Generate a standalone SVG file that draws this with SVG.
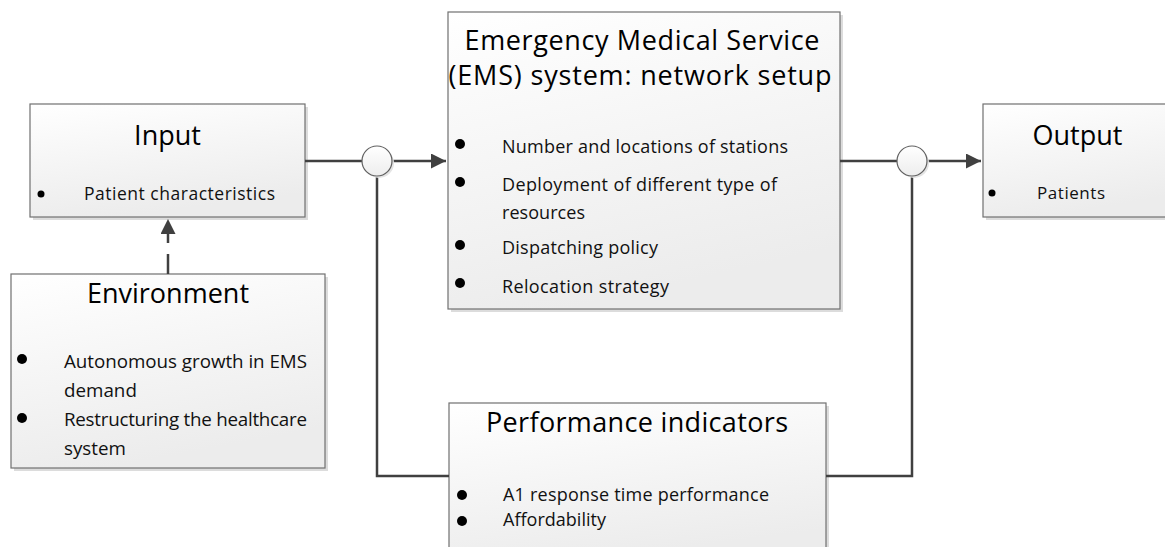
<svg xmlns="http://www.w3.org/2000/svg" width="1165" height="547" viewBox="0 0 1165 547">
  <style>
    .box { fill: url(#boxFill); stroke: #707070; stroke-width: 1.2; }
    .shadow { fill: #dcdcdc; }
    .title { font-family: "Open Sans", Lato, "Liberation Sans", sans-serif; font-size: 27px; fill: #000; text-anchor: middle; }
    .item { font-family: "Open Sans", Lato, "Liberation Sans", sans-serif; fill: #111; }
    .bullet { fill: #000; }
    .wire { fill: none; stroke: #404040; stroke-width: 2.5; }
    .junction { fill: url(#dotFill); stroke: #606060; stroke-width: 1.2; }
  </style>
  <defs>
    <linearGradient id="boxFill" x1="0" y1="0" x2="0.3" y2="1">
      <stop offset="0" stop-color="#ffffff"/>
      <stop offset="1" stop-color="#ececec"/>
    </linearGradient>
    <linearGradient id="dotFill" x1="0" y1="0" x2="0" y2="1">
      <stop offset="0" stop-color="#ffffff"/>
      <stop offset="1" stop-color="#ededed"/>
    </linearGradient>
    <marker id="arrow" viewBox="0 0 10 10" refX="10" refY="5" markerWidth="6" markerHeight="6" markerUnits="strokeWidth" orient="auto">
      <path d="M0,0 L10,5 L0,10 Z" fill="#404040"/>
    </marker>
  </defs>

  <rect width="1165" height="547" fill="#ffffff"/>

  <!-- Input -->
  <g id="input">
    <rect class="shadow" x="33" y="107" width="275" height="113"/>
    <rect class="box" x="30" y="104" width="275" height="113"/>
    <text class="title" x="167.5" y="145">Input</text>
    <circle class="bullet" cx="41" cy="194" r="3.5"/>
    <text class="item" x="84" y="200" font-size="17.5" textLength="191">Patient characteristics</text>
  </g>

  <!-- Environment -->
  <g id="environment">
    <rect class="shadow" x="14" y="277" width="314" height="194"/>
    <rect class="box" x="11" y="274" width="314" height="194"/>
    <text class="title" x="168" y="303">Environment</text>
    <circle class="bullet" cx="22" cy="359" r="5"/>
    <text class="item" x="64" y="368" font-size="18.8" textLength="243">Autonomous growth in EMS</text>
    <text class="item" x="64" y="397" font-size="18.8">demand</text>
    <circle class="bullet" cx="22" cy="418" r="5"/>
    <text class="item" x="64" y="426" font-size="18.8" textLength="243">Restructuring the healthcare</text>
    <text class="item" x="64" y="455" font-size="18.8">system</text>
  </g>

  <!-- EMS system -->
  <g id="ems">
    <rect class="shadow" x="451" y="15" width="392" height="297"/>
    <rect class="box" x="448" y="12" width="392" height="297"/>
    <text class="title" x="642" y="50" textLength="355">Emergency Medical Service</text>
    <text class="title" x="640" y="85" textLength="383">(EMS) system: network setup</text>
    <circle class="bullet" cx="460" cy="144" r="5"/>
    <text class="item" x="502" y="153" font-size="18" textLength="286">Number and locations of stations</text>
    <circle class="bullet" cx="460" cy="182" r="5"/>
    <text class="item" x="502" y="191" font-size="18" textLength="275">Deployment of different type of</text>
    <text class="item" x="502" y="219" font-size="18" textLength="83">resources</text>
    <circle class="bullet" cx="460" cy="245" r="5"/>
    <text class="item" x="502" y="254" font-size="18" textLength="156">Dispatching policy</text>
    <circle class="bullet" cx="460" cy="283" r="5"/>
    <text class="item" x="502" y="293" font-size="18" textLength="167">Relocation strategy</text>
  </g>

  <!-- Output -->
  <g id="output">
    <rect class="shadow" x="986" y="107" width="200" height="113"/>
    <rect class="box" x="983" y="104" width="200" height="113"/>
    <text class="title" x="1077.5" y="145">Output</text>
    <circle class="bullet" cx="992" cy="193" r="3.5"/>
    <text class="item" x="1037" y="199" font-size="17" textLength="68">Patients</text>
  </g>

  <!-- Performance indicators -->
  <g id="performance">
    <rect class="shadow" x="452" y="406" width="377" height="160"/>
    <rect class="box" x="449" y="403" width="377" height="160"/>
    <text class="title" x="637" y="432" textLength="302">Performance indicators</text>
    <circle class="bullet" cx="462" cy="495" r="5"/>
    <text class="item" x="503" y="501" font-size="18" textLength="266">A1 response time performance</text>
    <circle class="bullet" cx="462" cy="521" r="5"/>
    <text class="item" x="503" y="526" font-size="18" textLength="103">Affordability</text>
  </g>

  <!-- Connectors -->
  <g id="connectors">
    <path class="wire" d="M305,161 H362"/>
    <path class="wire" d="M392,161 H446" marker-end="url(#arrow)"/>
    <path class="wire" d="M377,176 V476 H449"/>
    <path class="wire" d="M840,161 H897"/>
    <path class="wire" d="M927,161 H981" marker-end="url(#arrow)"/>
    <path class="wire" d="M912,176 V476 H826"/>
    <path class="wire" d="M168,274 V219" stroke-dasharray="20 11" marker-end="url(#arrow)"/>
    <circle cx="379" cy="163" r="15" fill="#e4e4e4"/>
    <circle class="junction" cx="377" cy="161" r="15"/>
    <circle cx="914" cy="163" r="15" fill="#e4e4e4"/>
    <circle class="junction" cx="912" cy="161" r="15"/>
  </g>
</svg>
